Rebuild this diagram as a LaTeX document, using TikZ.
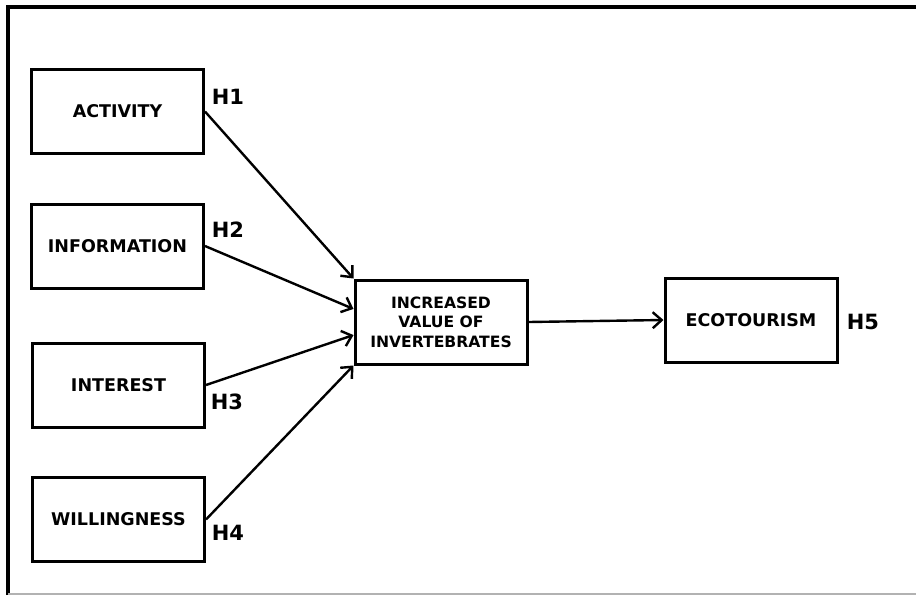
\documentclass[tikz,border=0pt]{standalone}
\usepackage{fontspec}
\setmainfont{DejaVu Sans}
\usepackage{tikz}
\usetikzlibrary{calc, positioning, arrows.meta}
\tikzset{>={Straight Barb[length=9pt,width=16pt]}}
\tikzset{
	varbox/.style={draw, line width=3pt, minimum width=172pt, minimum height=84pt, align=center, font=\fontsize{17.5}{20}\selectfont\bfseries},
	midbox/.style={varbox, font=\fontsize{15.6}{19.5}\selectfont\bfseries},
	hyp/.style={font=\fontsize{21}{24}\selectfont\bfseries},
	link/.style={->, line width=2.4pt}
}

\begin{document}
\begin{tikzpicture}[x=1pt,y=-1pt]
						\useasboundingbox (0,0) rectangle (916,595);
						\draw [line width=4pt] (8,595) -- (8,7) -- (916,7);
						\draw [gray!60, line width=1.5pt] (8,594) -- (916,594);
						% left column
						\node[varbox] (act) at (117.5,111.5) {ACTIVITY};
						\node[varbox] (inf) at (117.5,246) {INFORMATION};
						\node[varbox] (int) at (118.5,385) {INTEREST};
						\node[varbox] (wil) at (118.5,519.5) {WILLINGNESS};
						% mediator and outcome
						\node[midbox] (inc) at (441,322) {INCREASED\\VALUE OF\\INVERTEBRATES};
						\node[varbox] (eco) at (751,320) {ECOTOURISM};
						% hypotheses
						\node[hyp] (h1) at (228,97) {H1};
						\node[hyp] (h2) at (228,230) {H2};
						\node[hyp] (h3) at (227,402) {H3};
						\node[hyp] (h4) at (228,533) {H4};
						\node[hyp] (h5) at (863,322) {H5};
						\draw [link] (act.east) -- (inc.north west);
						\draw [link] (inf.east) -- ($(inc.north west)!0.35!(inc.south west)$);
						\draw [link] (int.east) -- ($(inc.north west)!0.65!(inc.south west)$);
						\draw [link] (wil.east) -- (inc.south west);
						\draw [link] (inc.east) -- (eco.west);
					\end{tikzpicture}
\end{document}
